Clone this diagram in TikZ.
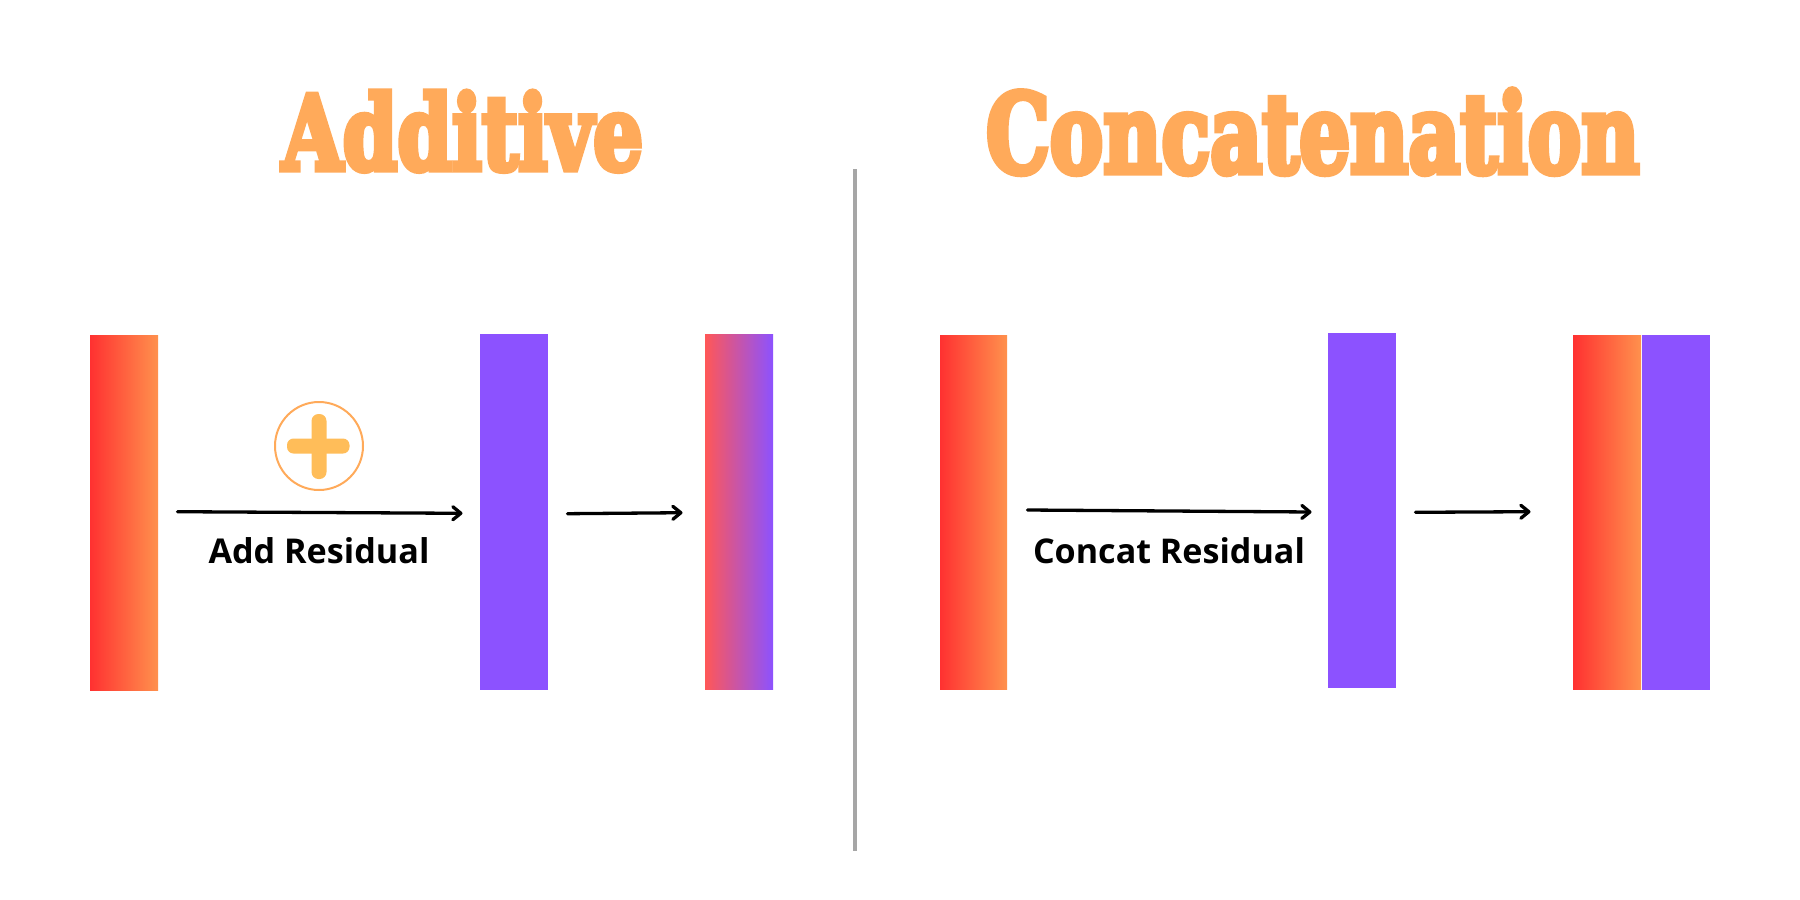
\documentclass[tikz,border=0pt]{standalone}
\usepackage{fontspec}
\usepackage{graphicx}
\usetikzlibrary{arrows.meta}
\setmainfont{Open Sans}
\newfontfamily\titlefont[UprightFont=* Bold,FakeBold=6]{DejaVu Serif}
\newfontfamily\capfont[UprightFont=* Bold]{Open Sans}
\definecolor{redc}{HTML}{FF3131}
\definecolor{orangec}{HTML}{FF914D}
\definecolor{purplec}{HTML}{8C52FF}
\definecolor{mixc}{HTML}{FF5757}
\definecolor{titlec}{HTML}{FFAA5A}
\definecolor{plusc}{HTML}{FFBD59}
\definecolor{divc}{HTML}{A6A6A6}
\tikzset{
  bar/.style={inner sep=0pt,outer sep=0pt,minimum width=68pt,minimum height=355.5pt,anchor=north west,draw=none},
  hotbar/.style={bar,left color=redc,right color=orangec},
  violetbar/.style={bar,fill=purplec},
  mixbar/.style={bar,left color=mixc,right color=purplec},
  flow/.style={draw=black,line width=3.3pt,line cap=round,-{Straight Barb[length=8pt,width=13pt,line width=3.3pt,round]}},
  heading/.style={inner sep=0pt,outer sep=0pt,anchor=south west,text=titlec},
  caption/.style={inner sep=0pt,outer sep=0pt,anchor=base west,text=black}
}
\begin{document}
\begin{tikzpicture}[x=1pt,y=-1pt]
\useasboundingbox (0,0) rectangle (1800,900);
\fill[white] (0,0) rectangle (1800,900);
% titles
\node[heading] (t1) at (282,171) {\resizebox{361pt}{78pt}{\titlefont Additive}};
\node[heading] (t2) at (986,174) {\resizebox{653pt}{83pt}{\titlefont Concatenation}};
% divider
\coordinate (d1) at (855,169);
\coordinate (d2) at (855,851);
\draw[divc,line width=3.5pt] (d1) -- (d2);
% bars
\node[hotbar] (r1) at (90,335) {};
\node[violetbar] (p1) at (479.5,334) {};
\node[mixbar] (m1) at (705,334) {};
\node[hotbar,minimum width=67pt,minimum height=354.5pt] (r2) at (940,335) {};
\node[violetbar,minimum height=354.5pt] (p2) at (1328,333) {};
\node[hotbar,minimum height=354.5pt] (r3) at (1573,335) {};
\node[violetbar,minimum height=354.5pt] (p3) at (1642,335) {};
% plus symbol
\node[circle,draw=titlec,line width=2pt,minimum size=88pt,inner sep=0pt] (op) at (319,446) {};
\fill[plusc,rounded corners=6.5pt] (287,438.5) rectangle (349.5,453.5);
\fill[plusc,rounded corners=7pt] (311.5,414) rectangle (326.5,479);
% arrows
\coordinate (a1s) at (177.5,511.7);
\coordinate (a1e) at (462.5,513.3);
\coordinate (a2s) at (567.5,513.7);
\coordinate (a2e) at (682.5,512.7);
\coordinate (a3s) at (1027.5,510);
\coordinate (a3e) at (1311.5,512);
\coordinate (a4s) at (1415.5,512.3);
\coordinate (a4e) at (1530.5,511.7);
\draw[flow] (a1s) -- (a1e);
\draw[flow] (a2s) -- (a2e);
\draw[flow] (a3s) -- (a3e);
\draw[flow] (a4s) -- (a4e);
% captions
\node[caption] (c1) at (208.5,563.5) {\resizebox{221pt}{!}{\capfont\fontsize{32.5}{36}\selectfont Add Residual}};
\node[caption] (c2) at (1033,563.5) {\resizebox{272pt}{!}{\capfont\fontsize{32.5}{36}\selectfont Concat Residual}};
\end{tikzpicture}
\end{document}
